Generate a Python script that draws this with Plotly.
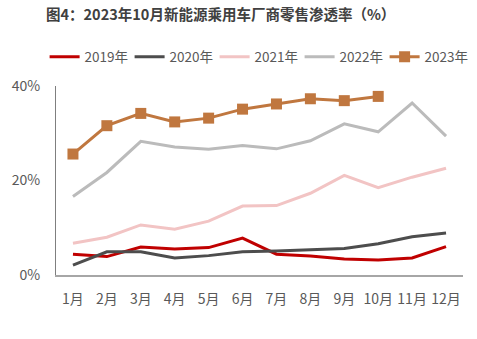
import plotly.graph_objects as go

months = ["1月", "2月", "3月", "4月", "5月", "6月", "7月", "8月", "9月", "10月", "11月", "12月"]
s2019 = [4.4, 3.9, 5.9, 5.5, 5.8, 7.8, 4.4, 4.0, 3.4, 3.2, 3.6, 6.0]
s2020 = [2.1, 4.9, 4.9, 3.6, 4.1, 4.9, 5.1, 5.4, 5.6, 6.6, 8.1, 8.9]
s2021 = [6.7, 8.0, 10.6, 9.7, 11.4, 14.6, 14.7, 17.3, 21.1, 18.5, 20.7, 22.6]
s2022 = [16.6, 21.7, 28.3, 27.1, 26.6, 27.4, 26.7, 28.4, 32.0, 30.3, 36.4, 29.4]
s2023 = [25.6, 31.6, 34.2, 32.4, 33.2, 35.1, 36.2, 37.3, 36.9, 37.8]
names = ["2019年", "2020年", "2021年", "2022年", "2023年"]
colors = ["#C00000", "#4D4D4D", "#F2C4C4", "#BBBBBB", "#C0773F"]

font = "Noto Sans CJK SC"
fig = go.Figure()
for name, vals, c in zip(names, [s2019, s2020, s2021, s2022, s2023], colors):
    if name == "2023年":
        fig.add_trace(go.Scatter(x=months[:len(vals)], y=vals, name=name, mode="lines+markers",
                                 line=dict(color=c, width=3),
                                 marker=dict(symbol="square", size=11, color=c)))
    else:
        fig.add_trace(go.Scatter(x=months[:len(vals)], y=vals, name=name, mode="lines",
                                 line=dict(color=c, width=3)))

fig.update_layout(
    width=477, height=339,
    margin=dict(l=51, r=14, t=86, b=64),
    paper_bgcolor="white", plot_bgcolor="white",
    font=dict(family=font, size=13, color="#595959"),
    title=dict(text="<b>图4：2023年10月新能源乘用车厂商零售渗透率（%）</b>",
               x=46 / 477, xref="container", xanchor="left", y=1 - 15 / 339, yanchor="middle",
               pad=dict(l=0),
               font=dict(family=font, size=14.5, color="#404040")),
    legend=dict(orientation="h", x=-0.028, xanchor="left", y=1.153, yanchor="middle",
                font=dict(family=font, size=13.5, color="#595959"),
                itemwidth=30, entrywidth=40, entrywidthmode="pixels",
                tracegroupgap=0, bgcolor="rgba(0,0,0,0)"),
    showlegend=True,
)
fig.update_xaxes(type="category", categoryorder="array", categoryarray=months,
                 showline=True, linecolor="#A6A6A6", linewidth=2, showgrid=False,
                 ticks="", ticklabelstandoff=10,
                 tickfont=dict(size=14, color="#595959"), range=[-0.5, 11.5])
fig.update_yaxes(range=[0, 40], tickvals=[0, 20, 40], ticktext=["0%", "20%", "40%"],
                 showline=True, linecolor="#7F7F7F", linewidth=1, showgrid=False, zeroline=False,
                 ticks="", ticklabelstandoff=12,
                 tickfont=dict(size=14, color="#595959"))

fig.write_html("out.html")
